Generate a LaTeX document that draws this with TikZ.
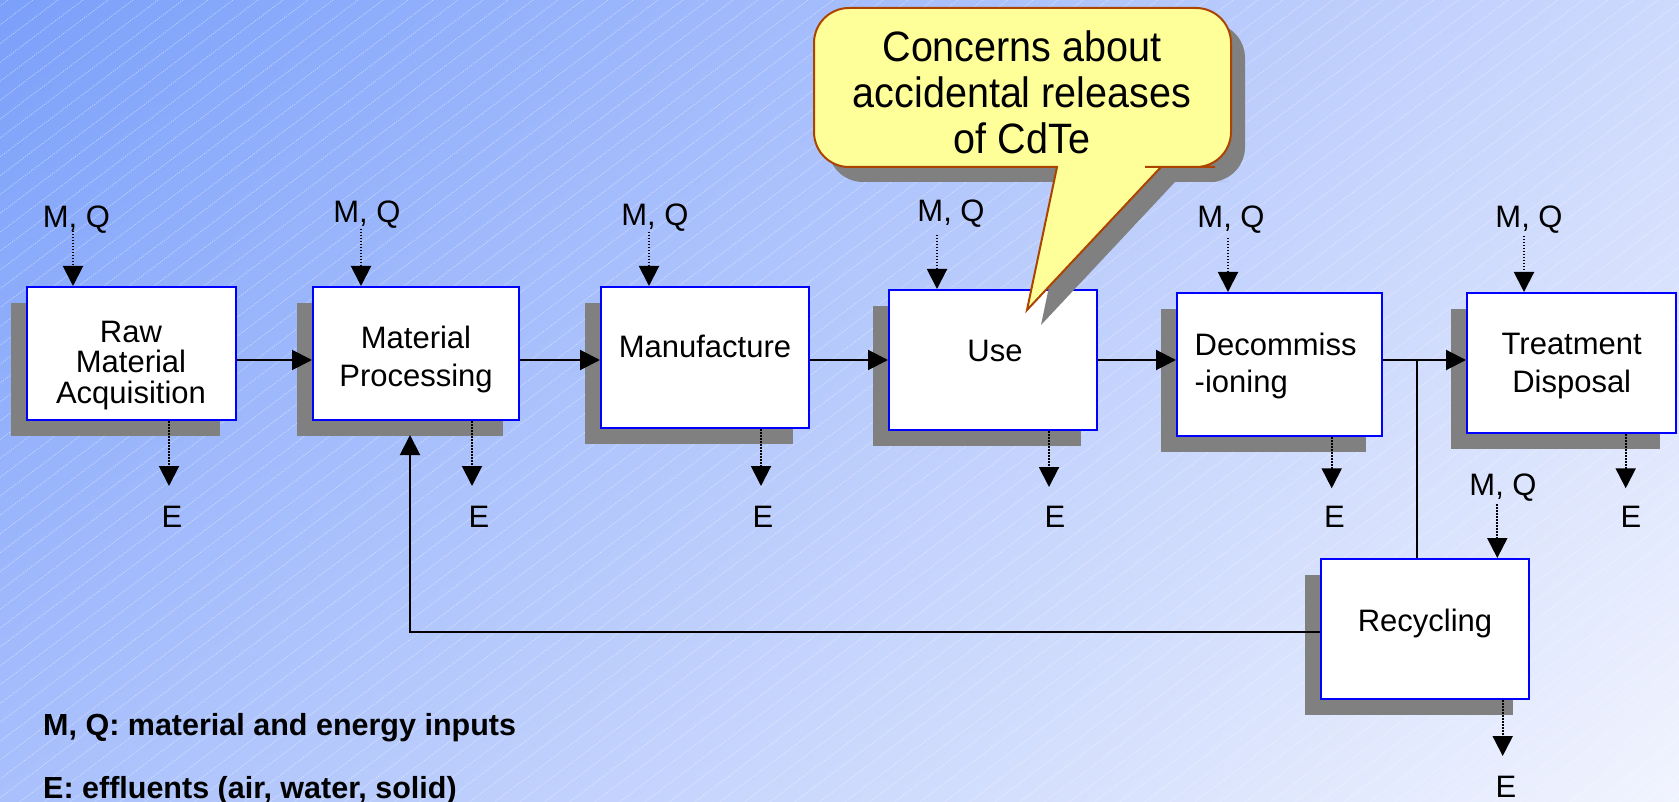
\documentclass[tikz,border=0pt]{standalone}
\usepackage{fontspec}
\setmainfont{Liberation Sans}
\newfontfamily\callfont[FakeStretch=0.93]{Liberation Sans}
\usetikzlibrary{arrows.meta,shadows,shadings}
\definecolor{bgUL}{RGB}{123,160,250}
\definecolor{bgUR}{RGB}{205,217,253}
\definecolor{bgLL}{RGB}{169,192,252}
\definecolor{bgLR}{RGB}{241,244,254}
\definecolor{boxblue}{RGB}{0,0,255}
\definecolor{shadowgray}{RGB}{128,128,128}
\definecolor{callfill}{RGB}{255,255,153}
\definecolor{callline}{RGB}{170,68,0}
\newcommand\bstrut{\rule[-10pt]{0pt}{35pt}}
\newcommand\cstrut{\rule[-12pt]{0pt}{46pt}}
\tikzset{
  hatch/.style={white,opacity=0.45,line width=0.8pt,dash pattern=on 1.2pt off 1.2pt},
  stagebox/.style={draw=boxblue,line width=2pt,fill=white,inner sep=0pt,
    drop shadow={shadow xshift=-16pt,shadow yshift=-16pt,fill=shadowgray,opacity=1}},
  boxtext/.style={inner sep=0pt,font=\fontsize{31}{38}\selectfont},
  labeltext/.style={inner sep=0pt,anchor=base,font=\fontsize{31}{36}\selectfont},
  legendtext/.style={inner sep=0pt,anchor=base west,font=\fontsize{30.5}{36}\selectfont\bfseries},
  conn/.style={draw=black,line width=2pt},
  tip/.style={-{Triangle[length=20pt,width=20pt]}},
  dotarr/.style={draw=black,line width=2pt,dash pattern=on 1.5pt off 1.5pt,-{Triangle[length=20pt,width=20pt]}},
  callout path/.style={insert path={(1170,167) -- (1161,167) -- (1027,310) -- (1057,167) -- (1000,167)
     [rounded corners=35pt] -- (814,167) -- (814,8) -- (1231,8) -- (1231,167) -- (1180,167) [sharp corners] -- cycle}}
}
\begin{document}
\lineskiplimit=-100pt
\begin{tikzpicture}[x=1pt,y=-1pt]
\useasboundingbox (0,0) rectangle (1679,802);
% background
\shade[upper left=bgUL,upper right=bgUR,lower left=bgLL,lower right=bgLR] (0,0) rectangle (1679,802);
\begin{scope}
  \clip (0,0) rectangle (1679,802);
  \foreach \k in {0,...,115} \draw[hatch] (8+\k*25,0) -- ++(-1100,829.6);
\end{scope}

% stage boxes
\node[stagebox,minimum width=209pt,minimum height=133pt] (raw)   at (131.5,353.5) {};
\node[stagebox,minimum width=206pt,minimum height=133pt] (proc)  at (416,353.5) {};
\node[stagebox,minimum width=208pt,minimum height=141pt] (manu)  at (705,357.5) {};
\node[stagebox,minimum width=208pt,minimum height=140pt] (use)   at (993,360) {};
\node[stagebox,minimum width=205pt,minimum height=143pt] (dec)   at (1279.5,364.5) {};
\node[stagebox,minimum width=209pt,minimum height=140pt] (treat) at (1571.5,363) {};
\node[stagebox,minimum width=208pt,minimum height=140pt] (rec)   at (1425,629) {};

% box texts
\node[boxtext,align=center,font=\fontsize{31}{30.5}\selectfont] (rawt) at (131,365.3)
  {\bstrut Raw\\\bstrut Material\\\bstrut Acquisition};
\node[boxtext,align=center] (proct) at (416,359.5) {\bstrut Material\\\bstrut Processing};
\node[boxtext,anchor=base] (manut) at (705,358) {Manufacture};
\node[boxtext,anchor=base] (uset) at (995,361) {Use};
\node[boxtext,align=left,anchor=west,font=\fontsize{31}{37}\selectfont] (dect) at (1194.5,366)
  {\bstrut Decommiss\\\bstrut -ioning};
\node[boxtext,align=center,font=\fontsize{31}{37.7}\selectfont] (treatt) at (1571.7,366.3) {\bstrut Treatment\\\bstrut Disposal};
\node[boxtext,anchor=base] (rect) at (1425,631) {Recycling};

% M, Q labels
\node[labeltext] (mq1) at (76.5,228) {M, Q};
\node[labeltext] (mq2) at (367,223) {M, Q};
\node[labeltext] (mq3) at (655,226) {M, Q};
\node[labeltext] (mq4) at (951,222) {M, Q};
\node[labeltext] (mq5) at (1231,228) {M, Q};
\node[labeltext] (mq6) at (1529,228) {M, Q};
\node[labeltext] (mq7) at (1503,495) {M, Q};

% E labels
\node[labeltext] (e1) at (172,527) {E};
\node[labeltext] (e2) at (479,527) {E};
\node[labeltext] (e3) at (763,527) {E};
\node[labeltext] (e4) at (1055,527) {E};
\node[labeltext] (e5) at (1334.5,527) {E};
\node[labeltext] (e6) at (1631,527) {E};
\node[labeltext] (e7) at (1506,797) {E};

% arrow anchor coordinates
\coordinate (mq1a) at (73,231);
\coordinate (mq2a) at (361,229);
\coordinate (mq3a) at (649,232);
\coordinate (mq4a) at (937,235);
\coordinate (mq5a) at (1228,238);
\coordinate (mq6a) at (1524,236);
\coordinate (mq7a) at (1497.3,504);
\coordinate (e1a) at (169,486);
\coordinate (e2a) at (472,486);
\coordinate (e3a) at (761,486);
\coordinate (e4a) at (1049,487);
\coordinate (e5a) at (1331.7,488.3);
\coordinate (e6a) at (1625.7,488.3);
\coordinate (e7a) at (1502.7,756);
\coordinate (flow) at (0,360);
\coordinate (jn) at (1417,360);
\coordinate (ret) at (410,632.3);
\coordinate (retend) at (410,435);

% inputs
\draw[dotarr] (mq1a) -- (mq1a |- raw.north);
\draw[dotarr] (mq2a) -- (mq2a |- proc.north);
\draw[dotarr] (mq3a) -- (mq3a |- manu.north);
\draw[dotarr] (mq4a) -- (mq4a |- use.north);
\draw[dotarr] (mq5a) -- (mq5a |- dec.north);
\draw[dotarr] (mq6a) -- (mq6a |- treat.north);
\draw[dotarr] (mq7a) -- (mq7a |- rec.north);
% effluents
\draw[dotarr] (e1a |- raw.south) -- (e1a);
\draw[dotarr] (e2a |- proc.south) -- (e2a);
\draw[dotarr] (e3a |- manu.south) -- (e3a);
\draw[dotarr] (e4a |- use.south) -- (e4a);
\draw[dotarr] (e5a |- dec.south) -- (e5a);
\draw[dotarr] (e6a |- treat.south) -- (e6a);
\draw[dotarr] (e7a |- rec.south) -- (e7a);

% main flow
\draw[conn,tip] (raw.east |- flow) -- (proc.west |- flow);
\draw[conn,tip] (proc.east |- flow) -- (manu.west |- flow);
\draw[conn,tip] (manu.east |- flow) -- (use.west |- flow);
\draw[conn,tip] (use.east |- flow) -- (dec.west |- flow);
\draw[conn,tip] (dec.east |- flow) -- (treat.west |- flow);
\draw[conn] (jn) -- (jn |- rec.north);
\draw[conn,tip] (rec.west |- ret) -- (ret) -- (retend);

% legend
\node[legendtext] (leg1) at (43,735) {M, Q: material and energy inputs};
\node[legendtext] (leg2) at (43,798) {E: effluents (air, water, solid)};

% callout
\begin{scope}[shift={(14,15)}]
  \fill[shadowgray,callout path];
\end{scope}
\draw[fill=callfill,draw=callline,line width=2pt,callout path];
\node[inner sep=0pt,align=center,font=\callfont\fontsize{42.5}{46}\selectfont] (callt) at (1022,97)
  {\cstrut Concerns about\\\cstrut accidental releases\\\cstrut of CdTe};
\end{tikzpicture}
\end{document}
